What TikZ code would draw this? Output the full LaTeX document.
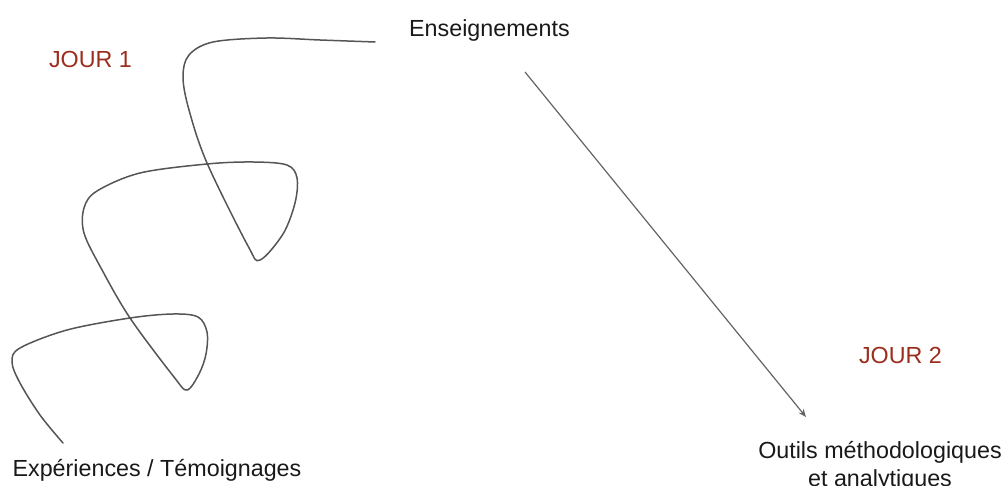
\documentclass[tikz,border=0pt]{standalone}
\usepackage{fontspec}
\setmainfont{Liberation Sans}
\usepackage{tikz}
\usetikzlibrary{arrows.meta,positioning,calc}
\definecolor{jourred}{RGB}{155,45,28}
\definecolor{inkgray}{RGB}{85,85,85}
\definecolor{arrowgray}{RGB}{100,100,100}

\begin{document}
\begin{tikzpicture}[x=1pt,y=-1pt,>={Stealth[length=8pt,width=6.5pt]},
  every node/.style={inner sep=0pt,anchor=base,font=\fontsize{23.3}{28}\selectfont,text=black!90},
  jour/.style={text=jourred}]
  \useasboundingbox (0,0) rectangle (1006,486);
  \node (ens) at (489.5,37) {Enseignements};
  \node[jour] (j1) at (90.5,68) {JOUR 1};  \node[jour] (j2) at (900.5,363) {JOUR 2};
  \node (exp) at (157,476) {Expériences / Témoignages};
  \node[align=center] (outils) at (880,486) {Outils méthodologiques\\et analytiques};
  \coordinate (a0) at (525,72); \coordinate (a1) at (806,417);
  \draw[->,arrowgray,line width=1.2pt] (a0)--(a1);
  % squiggle, experiences -> enseignements
  \draw[inkgray,line width=1.5pt,line cap=round] plot[smooth,tension=0.55] coordinates {
    (63,443) (40,415) (20,383) (12,362) (20,348) (67,330) (130,318) (173,314) (198,317)
    (207,332) (206,354) (199,374) (187,390) (174,377) (130,318) (101,268)
    (84,233) (84,208) (97,191) (140,173) (207,164) (253,162) (287,165) (297,178)
    (295,203) (283,234) (260,260) (248,246) (207,163) (189,110) (183,77)
    (189,55) (213,42) (267,38) (320,40) (375,42)};
\end{tikzpicture}
\end{document}
